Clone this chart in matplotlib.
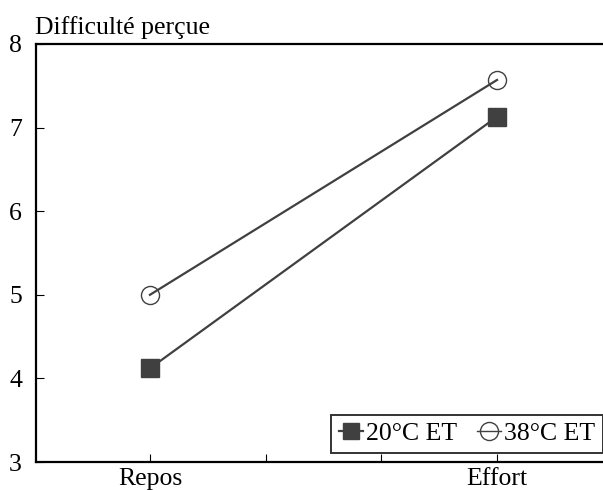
import matplotlib
matplotlib.use("Agg")
import matplotlib.pyplot as plt
from matplotlib.lines import Line2D

plt.rcParams['font.family'] = ['Liberation Serif', 'DejaVu Serif']
plt.rcParams['mathtext.fontset'] = 'stix'

# Data
conditions = ["Repos", "Effort"]
positions = [0, 3]
minor_positions = [1, 2]
series_names = ["20°C ET", "38°C ET"]
values_20 = [4.12, 7.13]
values_38 = [5.0, 7.57]
y_ticks = [3, 4, 5, 6, 7, 8]

dark = "#404040"
fs = 18.5

fig = plt.figure(figsize=(6.03, 4.90), dpi=100)
ax = fig.add_axes([36 / 603, 28 / 490, 1 - 36 / 603, 418 / 490])

ax.plot(positions, values_20, color=dark, lw=1.6, marker='s', ms=13,
        mfc=dark, mec=dark, label=series_names[0], zorder=3)
ax.plot(positions, values_38, color=dark, lw=1.6, marker='o', ms=13,
        mfc='none', mec=dark, mew=1.0, label=series_names[1], zorder=3)

ax.set_xlim(-0.985, 3.916)
ax.set_ylim(3, 8)
ax.set_yticks(y_ticks)
ax.set_xticks(positions + minor_positions)
ax.set_xticklabels(conditions + ["", ""])

for side in ['left', 'bottom', 'top']:
    ax.spines[side].set_linewidth(1.6)
    ax.spines[side].set_color('black')
ax.spines['right'].set_visible(False)

ax.tick_params(axis='both', direction='in', length=6, width=0.8,
               labelsize=fs, colors='black')
ax.tick_params(axis='y', pad=10)
ax.tick_params(axis='x', pad=4)

fig.text(35 / 603, 1 - 34 / 490, "Difficulté perçue", fontsize=fs,
         ha='left', va='baseline')

handles = [
    Line2D([], [], color=dark, lw=1.6, marker='s', ms=11, mfc=dark, mec=dark),
    Line2D([], [], color=dark, lw=1.0, marker='o', ms=13, mfc='none', mec=dark, mew=1.0),
]
leg = ax.legend(handles, series_names, loc='lower right', ncol=2,
                bbox_to_anchor=(1.0, 9 / 418), fontsize=fs, frameon=True,
                fancybox=False, edgecolor='black', handlelength=0.95,
                handletextpad=0.12, columnspacing=0.75, borderpad=0.3,
                borderaxespad=0.0)
leg.get_frame().set_linewidth(1.4)

fig.savefig("out.png", dpi=100)
